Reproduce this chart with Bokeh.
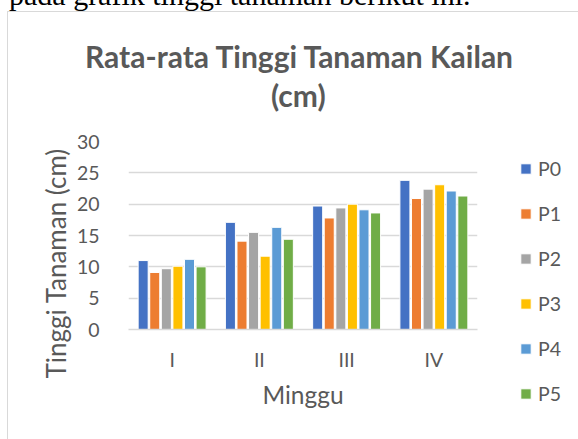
from bokeh.plotting import figure
from bokeh.models import (FactorRange, Legend, LegendItem, Title, Div,
                          ColumnDataSource, FixedTicker)
from bokeh.layouts import column
from bokeh.transform import dodge
from bokeh.embed import file_html
from bokeh.resources import INLINE

# ---- data ----
weeks = ["I", "II", "III", "IV"]
series_names = ["P0", "P1", "P2", "P3", "P4", "P5"]
P0 = [11.0, 17.1, 19.7, 23.8]
P1 = [9.1, 14.1, 17.8, 20.9]
P2 = [9.7, 15.5, 19.4, 22.4]
P3 = [10.1, 11.7, 20.0, 23.1]
P4 = [11.2, 16.3, 19.1, 22.1]
P5 = [10.0, 14.4, 18.6, 21.3]
y_ticks = [0, 5, 10, 15, 20, 25, 30]

title_line1 = "Rata-rata Tinggi Tanaman Kailan"
title_line2 = "(cm)"
x_title = "Minggu"
y_title = "Tinggi Tanaman (cm)"
top_text = "pada grafik tinggi tanaman berikut ini."

colors = ["#4472C4", "#ED7D31", "#A5A5A5", "#FFC000", "#5B9BD5", "#70AD47"]
TXT = "#595959"
FONT = "Lato"
GRID = "#D9D9D9"

src = ColumnDataSource(dict(week=weeks, P0=P0, P1=P1, P2=P2, P3=P3, P4=P4, P5=P5))

# canvas origin on page is (8, 12)
FL, FT, FW, FH = 120, 129, 348, 187
p = figure(x_range=FactorRange(*weeks), y_range=(0, 30),
           frame_width=FW, frame_height=FH,
           min_border_left=FL, min_border_right=102,
           min_border_top=FT, min_border_bottom=111,
           output_backend="svg", toolbar_location=None,
           background_fill_color="white", border_fill_color="white",
           title=None)
p.styles = {"margin-left": "7px", "border-left": "1px solid " + GRID,
            "border-top": "1px solid " + GRID}
p.outline_line_color = None

pitch = 0.1328
bw = 0.115
renderers = []
for i, name in enumerate(series_names):
    off = (i - 2.5) * pitch
    r = p.vbar(x=dodge("week", off, range=p.x_range), top=name, width=bw,
               source=src, fill_color=colors[i], line_color="white", line_width=1)
    renderers.append(r)

# axes
p.yaxis.ticker = FixedTicker(ticks=y_ticks)
p.yaxis.axis_line_color = None
p.yaxis.major_tick_line_color = None
p.yaxis.minor_tick_line_color = None
p.yaxis.major_label_standoff = 23
p.yaxis.major_label_text_font = FONT
p.yaxis.major_label_text_font_size = "19.5px"
p.yaxis.major_label_text_color = TXT

p.xaxis.axis_line_color = GRID
p.xaxis.axis_line_width = 1.5
p.xaxis.major_tick_line_color = None
p.xaxis.minor_tick_line_color = None
p.xaxis.major_label_standoff = 12
p.xaxis.major_label_text_font = FONT
p.xaxis.major_label_text_font_size = "19.5px"
p.xaxis.major_label_text_color = TXT
p.xaxis.axis_label = x_title
p.xaxis.axis_label_standoff = 6
p.xaxis.axis_label_text_font = FONT
p.xaxis.axis_label_text_font_size = "24.5px"
p.xaxis.axis_label_text_font_style = "normal"
p.xaxis.axis_label_text_color = TXT

p.xgrid.grid_line_color = None
p.ygrid.grid_line_color = GRID
p.ygrid.grid_line_width = 1.5

# title block (above): spacer next to the frame, then "(cm)", then line 1
p.add_layout(Title(text=" ", text_font_size="1px", standoff=25), "above")
p.add_layout(Title(text=title_line2, align="left", offset=142.5, standoff=1,
                   text_font=FONT, text_font_size="30px", text_font_style="bold",
                   text_color=TXT), "above")
p.add_layout(Title(text=title_line1, align="left", offset=-43.5, standoff=1,
                   text_font=FONT, text_font_size="30px", text_font_style="bold",
                   text_color=TXT), "above")

# y axis title (left, outside the axis)
p.add_layout(Title(text=y_title, align="left", offset=-49, standoff=3,
                   text_font=FONT, text_font_size="26px", text_font_style="normal",
                   text_color=TXT), "left")

# legend (right panel)
items = [LegendItem(label=n, renderers=[r]) for n, r in zip(series_names, renderers)]
legend = Legend(items=items, location=(42, -76),
                orientation="vertical", glyph_width=13, glyph_height=13,
                label_height=24, spacing=21, padding=0, margin=0,
                label_standoff=6, border_line_color=None,
                background_fill_alpha=0,
                label_text_font=FONT, label_text_font_size="19.5px",
                label_text_color=TXT)
p.add_layout(legend, "right")

# cropped paragraph line above the chart
top_div = Div(text='<div style="position:relative; top:-20px; left:9px; '
                   'font-family:\'Liberation Serif\'; font-size:30px; line-height:30px; '
                   'white-space:nowrap; color:black;">' + top_text + '</div>',
              width=578, height=11, margin=(0, 0, 0, 0),
              styles={"overflow": "hidden"})

layout = column(top_div, p, spacing=0)
open("out.html", "w").write(file_html(layout, INLINE))
